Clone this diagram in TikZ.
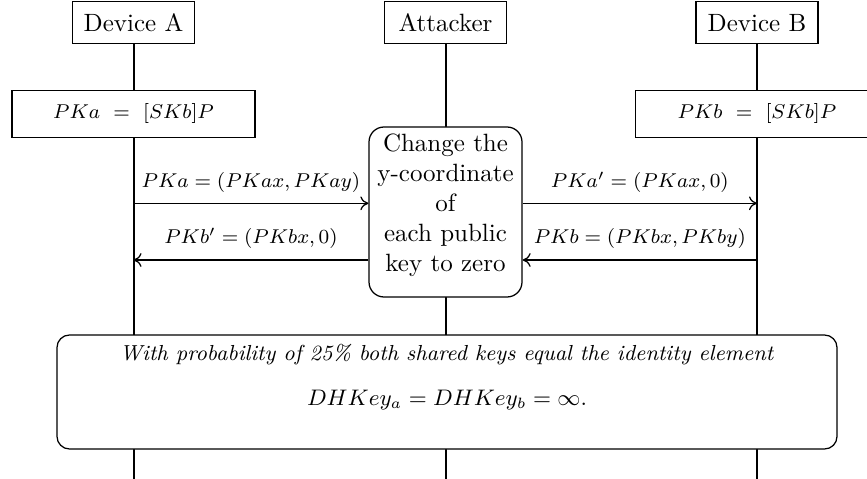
\documentclass[tikz,border=0pt]{standalone}
\usetikzlibrary{arrows.meta}
\begin{document}
\begin{tikzpicture}[x=0.4pt,y=-0.4pt,
  every node/.style={font=\fontsize{10}{12}\selectfont},
  actor/.style={draw,fill=white,line width=0.5pt,minimum width=48.8pt,minimum height=16.8pt,inner sep=0pt},
  keybox/.style={draw,fill=white,line width=0.5pt,minimum width=97.2pt,minimum height=19pt,inner sep=0pt,font=\fontsize{8.3}{10}\selectfont},
  life/.style={line width=0.8pt},
  msg/.style={line width=0.5pt,-{To[length=3.2pt,width=5.5pt]}},
  lbl/.style={midway,above=2.2pt,inner sep=2pt,font=\fontsize{8.3}{10}\selectfont},
  rbox/.style={draw,fill=white,line width=0.5pt,rounded corners=6pt,inner sep=0pt}
]
\useasboundingbox (0,0) rectangle (867,479);
% headers
\node[actor] (A) at (133.5,22.8) {Device A};
\node[actor] (M) at (445.5,22.8) {Attacker};
\node[actor] (B) at (757,22.8) {Device B};
\coordinate (Aend) at (133.5,479);
\coordinate (Mend) at (445.5,479);
\coordinate (Bend) at (757,479);
\draw[life] (A.south) -- (Aend);
\draw[life] (M.south) -- (Mend);
\draw[life] (B.south) -- (Bend);
% key boxes
\node[keybox] (ka) at (133.5,114) {$PKa\ =\ [SKb]P$};
\node[keybox] (kb) at (757,114) {$PKb\ =\ [SKb]P$};
% attacker box
\node[rbox,minimum width=61.2pt,minimum height=68pt] (atk) at (445.5,212) {};
\node[anchor=north,align=center,inner sep=0pt] (atkt) at ([yshift=-2.8pt]atk.north) {Change the\\y-coordinate\\of\\each public\\key to zero};
% message coordinates
\coordinate (a1) at (133.5,203.3);
\coordinate (a2) at (133.5,260);
\coordinate (b1) at (757,203.3);
\coordinate (b2) at (757,260);
\draw[msg] (a1) -- (atk.west |- a1) node[lbl] {$PKa=(PKax,PKay)$};
\draw[msg] (atk.west |- a2) -- (a2) node[lbl] {$PKb'=(PKbx,0)$};
\draw[msg] (atk.east |- b1) -- (b1) node[lbl] {$PKa'=(PKax,0)$};
\draw[msg] (b2) -- (atk.east |- b2) node[lbl] {$PKb=(PKbx,PKby)$};
% bottom box
\node[rbox,rounded corners=5pt,minimum width=312pt,minimum height=45.6pt] (res) at (447,392) {};
\node[inner sep=0pt,font=\fontsize{8.7}{10}\selectfont] (rest1) at (447,355) {\textit{With probability of 25\% both shared keys equal the identity element}};
\node[inner sep=0pt,font=\fontsize{8.9}{10}\selectfont] (rest2) at (447,400) {$DHKey_a=DHKey_b=\infty.$};
\end{tikzpicture}
\end{document}
